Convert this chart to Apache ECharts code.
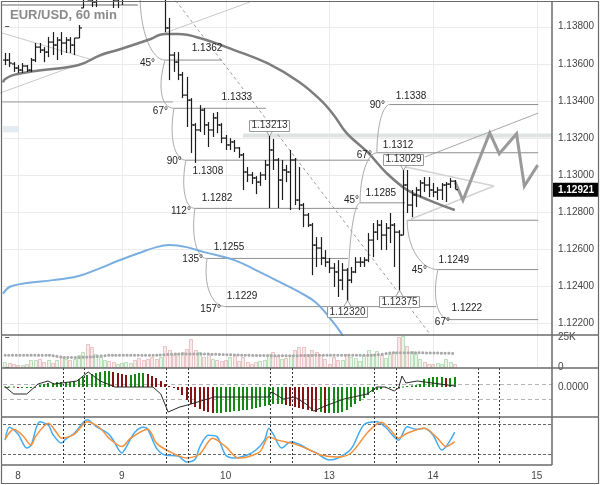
<!DOCTYPE html>
<html>
<head>
<meta charset="utf-8">
<script src="https://cdn.jsdelivr.net/npm/echarts@6.0.0/dist/echarts.min.js"></script>
<style>
html,body{margin:0;padding:0;background:#fff;}
#chart{width:600px;height:485px;}
</style>
</head>
<body>
<div id="chart"></div>
<script>
// ================= DATA =================
const dayStarts = [3, 27, 51, 75, 99, 123];
const dayLabels = ['8', '9', '10', '13', '14', '15'];
const priceTicks = [1.122, 1.124, 1.126, 1.128, 1.130, 1.132, 1.134, 1.136, 1.138];

const open = [
1.1362,1.1362,1.13599,1.13577,1.13566,1.13588,1.13566,1.1362,1.1369,1.13674,
1.13663,1.13717,1.13701,1.13728,1.13712,1.13728,1.13701,1.13739,1.13901,1.13998,
1.13944,1.13933,1.13971,1.14079,1.14133,1.14052,1.13944,1.13971,1.14025,1.14106,
1.1416,1.14133,1.14106,1.14079,1.14052,1.14025,1.13998,1.14052,1.13793,1.13647,
1.13609,1.1354,1.13431,1.13404,1.1327,1.13243,1.1335,1.1327,1.13243,1.13308,
1.1327,1.13199,1.13162,1.13178,1.13146,1.13108,1.13016,1.13,1.12984,1.12962,
1.13,1.13054,1.13135,1.13081,1.12973,1.13027,1.13016,1.13081,1.12865,1.12838,
1.12784,1.1273,1.12622,1.12606,1.12552,1.1253,1.12498,1.12477,1.12433,1.12487,
1.12433,1.12477,1.1253,1.1253,1.12541,1.12649,1.12692,1.1273,1.12676,1.12714,
1.1273,1.12692,1.12676,1.12946,1.12838,1.12892,1.12919,1.12957,1.12946,1.12919,
1.12908,1.12919,1.12946,1.12951,1.12967];
const high = [
1.13658,1.13658,1.13609,1.13593,1.13604,1.13593,1.13631,1.13712,1.13712,1.1369,
1.13744,1.13771,1.13744,1.13771,1.13744,1.13744,1.13739,1.13809,1.14025,1.14079,
1.14079,1.13998,1.14106,1.1416,1.14187,1.14079,1.13998,1.14052,1.14133,1.14187,
1.14214,1.14187,1.1416,1.14133,1.14106,1.14079,1.14052,1.14079,1.13847,1.13663,
1.13663,1.13556,1.13529,1.13415,1.1328,1.13377,1.13361,1.13286,1.13334,1.1334,
1.1328,1.13216,1.13199,1.13189,1.13151,1.13119,1.13043,1.13016,1.12994,1.13016,
1.13081,1.13213,1.13195,1.13092,1.13081,1.13054,1.13135,1.13092,1.13043,1.12849,
1.12795,1.12741,1.12665,1.12665,1.12595,1.12552,1.12525,1.12541,1.12525,1.12498,
1.12504,1.12557,1.12557,1.12557,1.12687,1.12741,1.12757,1.12757,1.12741,1.12795,
1.12741,1.12703,1.13029,1.13027,1.12919,1.12935,1.12973,1.12989,1.12989,1.12957,
1.12935,1.12957,1.12962,1.12984,1.12973];
const low = [
1.13593,1.13583,1.13556,1.1355,1.1355,1.13556,1.13556,1.13609,1.13658,1.13609,
1.13636,1.13647,1.1362,1.13647,1.13658,1.13658,1.13647,1.13739,1.13901,1.13944,
1.13906,1.13906,1.13971,1.14052,1.14025,1.13901,1.13901,1.13917,1.13998,1.14079,
1.14106,1.14079,1.14052,1.14025,1.13998,1.13971,1.13944,1.13771,1.13512,1.13556,
1.13512,1.13415,1.13259,1.13119,1.13065,1.13232,1.13216,1.13151,1.13205,1.13226,
1.13172,1.13135,1.13135,1.13124,1.13092,1.12919,1.12962,1.12951,1.12897,1.12941,
1.12973,1.12822,1.13027,1.12822,1.12865,1.12962,1.12811,1.12838,1.12811,1.12719,
1.12719,1.1246,1.12504,1.12514,1.12504,1.12471,1.12396,1.12342,1.12379,1.1232,
1.12417,1.12471,1.12504,1.12504,1.1253,1.12557,1.12649,1.12595,1.12595,1.12633,
1.12504,1.12375,1.12676,1.12795,1.12773,1.12827,1.12881,1.12908,1.12881,1.12881,
1.12865,1.12865,1.12854,1.1293,1.12924];
const close = [
1.1362,1.13604,1.13577,1.13566,1.13588,1.13566,1.1362,1.1369,1.13674,1.13663,
1.13717,1.13701,1.13728,1.13712,1.13728,1.13701,1.13739,1.13793,1.13998,1.13944,
1.13933,1.13971,1.14079,1.14133,1.14052,1.13944,1.13971,1.14025,1.14106,1.1416,
1.14133,1.14106,1.14079,1.14052,1.14025,1.13998,1.14052,1.13793,1.13647,1.13609,
1.1354,1.13431,1.13404,1.1327,1.13243,1.1335,1.1327,1.13243,1.13308,1.1327,
1.13199,1.13162,1.13178,1.13146,1.13108,1.13016,1.13,1.12984,1.12962,1.13,
1.13054,1.13135,1.13081,1.12973,1.13027,1.13016,1.13081,1.12865,1.12838,1.12784,
1.1273,1.12622,1.12606,1.12552,1.1253,1.12498,1.12477,1.12433,1.12487,1.12433,
1.12477,1.1253,1.1253,1.12541,1.12649,1.12692,1.1273,1.12676,1.12714,1.1273,
1.12692,1.12676,1.12946,1.12838,1.12892,1.12919,1.12957,1.12946,1.12919,1.12908,
1.12919,1.12946,1.12951,1.12967,1.12921];
const lastPrice = 1.12921;

// moving averages (read at points along the curves)
const maSlow = [[-0.5,1.135],[0,1.13518],[2,1.1354],[7,1.13561],[17,1.13593],[22,1.13647],[26,1.13674],[33,1.13728],[37,1.1376],[40,1.1376],[45,1.13739],[53,1.13674],[61,1.13599],[68,1.13502],[73,1.13404],[76,1.13324],[79,1.13226],[84,1.13119],[88,1.13016],[93,1.12919],[98,1.12865],[104,1.12811]];
const maBlue = [[-0.5,1.12359],[1,1.12396],[5,1.12417],[11,1.12433],[17,1.12455],[22,1.12498],[26,1.12536],[31,1.12579],[35,1.12611],[38,1.12622],[42,1.12611],[46,1.12584],[53,1.12541],[58,1.12487],[64,1.12417],[68,1.12369],[72,1.1231],[76,1.12202],[78,1.12137],[79,1.121]];

// volume (thousands)
const volume = [4.2,3.4,2.8,1.4,2,2.8,5.6,6.2,7,4.2,5.6,3.7,5.6,8.5,7,6.2,7,9.9,12.7,19.2,
17,11.3,8.5,6.2,5,4.2,2.8,3.4,4.2,3.4,5.6,7.9,6.2,7,8.5,7,8.5,17.5,14,9.9,
11.3,12.7,15.5,24,14,12.7,8.5,11.3,7,5.6,5,6.2,8.5,9.9,5,8.5,4.2,2.8,4,5,
5.6,11.3,12.7,9,7,7.9,9.9,14,17,17,11.3,14.7,12.7,9.9,7,2.8,8.5,5.6,6.2,10.7,
8.5,7.9,5,9.9,14,11.3,13.5,9.9,7.9,11.3,12.7,25,26,18,13.5,11.3,7,4.2,2.8,2.8,
3.4,2.8,7,4.2,2.3];
const volumeMA = [[0,10],[10,10],[14,8],[20,8.5],[25,10],[35,10],[40,11],[45,11],[55,10],[65,9.5],[75,10],[85,10],[90,12],[95,12],[104,11.5]];

// MACD (pips)
const macdHist = [0.5,0.5,0.5,0,0,0,0,0,2,3,4,4,5,5,5,5,6,8,10,12,
13,14,15,16,16,15,14,13,12,12,13,14,14,13,11,9,6,3,1,-1,
-3,-8,-13,-17,-20,-22,-24,-25,-26,-26,-26,-25,-25,-24,-24,-23,-23,-22,-21,-20,
-19,-18,-17,-17,-17,-18,-19,-20,-21,-22,-23,-24,-25,-25,-26,-26,-26,-26,-25,-23,
-20,-17,-14,-11,-8,-5,-3,-2,-1,-1,-1,-1.5,0.5,1,1.5,2,3,8,9,10,
10,10,9,9,10];
const macdLine = [[0,0],[2,-7],[5,-7],[7.6,3],[9.9,6],[11.3,3],[16.6,6],[19.2,15],[22,6],[25.4,0],[34.2,0],[36,-7],[37.7,-25],[40.4,-20],[43,-17],[48.3,-10],[60.8,-10],[61.7,-5],[64.3,-12],[67,-10],[69.6,-17],[71.4,-24],[74,-19],[78.4,-12],[83.7,-7],[86,0],[87.9,0],[90,-4],[91,-1],[91.8,11],[92.7,4],[95.3,6],[100.6,3],[104,1]];
const macdLevels = [3, -12];

// Stochastic
const stochK = [[0,48],[1,74],[3,60],[5,32],[6,38],[8,85],[10,78],[11,60],[13,42],[14,50],[16,62],[19,89],[21,76],[23,66],[24,60],[25,48],[27,22],[28,34],[30,64],[32,74],[33,70],[35,32],[37,18],[40,16],[42,4],[44,10],[45,34],[47,58],[49,55],[51,18],[53,12],[56,18],[58,28],[60,48],[61,72],[62,60],[64,32],[66,44],[68,40],[70,30],[72,22],[75,8],[77,12],[80,30],[83,79],[86,85],[88,74],[91,48],[93,75],[95,70],[97,72],[99,58],[101,28],[104,64]];
const stochD = [[0,50],[2,70],[4,58],[6,38],[7,55],[10,82],[12,62],[13,52],[16,60],[19,85],[22,72],[24,52],[27,35],[29,52],[33,70],[35,42],[38,25],[42,12],[45,20],[48,52],[51,35],[54,12],[56,14],[59,25],[61,55],[63,48],[67,40],[70,30],[73,18],[77,14],[80,22],[84,65],[87,84],[89,70],[91,52],[93,62],[97,72],[100,52],[102,35],[104,45]];
const stochLevels = [80, 20];
const sessionMarks = [13.3, 18.3, 37.3, 42.3, 61.3, 66.3, 85.3, 90.3, 109.3, 114.3];

// Drawing objects (time index, price)
const levelPrices = [1.1362, 1.1336, 1.1308, 1.1282, 1.1255, 1.1229, 1.1285, 1.1312, 1.1338, 1.12756, 1.1249, 1.1222];
const levelLabels = ['1.1362','1.1333','1.1308','1.1282','1.1255','1.1229','1.1285','1.1312','1.1338','','1.1249','1.1222'];
const levelSpans = [[37.0,50.2],[39.05,60.3],[41.8,84.4],[43.9,81.6],[46.7,79.3],[51.1,99.7],[82.1,92.5],[86.0,123.3],[89.0,123.3],[93.0,123.3],[100.1,123.3],[102.9,123.3]];
const levelLabelAt = [46.7, 53.6, 46.9, 49.0, 51.8, 54.8, 86.9, 90.9, 93.9, 0, 103.8, 106.8];
const angleOf = [0,1,2,3,4,5,6,7,8,10,11];
const angleText = ['45°','67°','90°','112°','135°','157°','45°','67°','90°','45°','67°'];
const arcs = [[31.2,1.1397,37.0,1.1362],[37.0,1.1362,39.05,1.1336],[39.05,1.1336,41.8,1.1308],[41.8,1.1308,43.9,1.1282],[43.9,1.1282,46.7,1.1255],[46.7,1.1255,51.1,1.1229],
  [79.3,1.1232,82.1,1.1285],[82.1,1.1285,86.0,1.1312],[86.0,1.1312,89.0,1.1338],[93.0,1.12756,100.1,1.1249],[100.1,1.1249,102.9,1.1222]];
const trendLines = [[-0.7,1.13917,30.7,1.13917],[-0.7,1.13394,38.8,1.13394],[39.5,1.1394,98,1.1215],[-1.2,1.13442,56.6,1.13933],[-0.7,1.13766,20.3,1.1362],[92.7,1.13043,113.1,1.12941],[93.9,1.12763,113.1,1.12941],[97.1,1.13097,123.3,1.13334]];
const resistance = [55, 126.5, 1.13213];
const projection = [[104.1,1.12962],[105.9,1.12863],[112.1,1.13227],[114.3,1.13115],[118.3,1.13223],[120.1,1.1294],[123.2,1.13053]];
const markedBars = [[61,'high'],[92,'high'],[79,'low'],[91,'low']];

// ================= STYLE / LAYOUT =================
const FONT = '"Liberation Sans", Arial, sans-serif';
const XMIN = -0.5, XMAX = 126.5;
const PMIN = 1.12137, PMAX = 1.13944;
const trendStyles = [
  {stroke:'#b4b4b4', lineWidth:2}, {stroke:'#9a9a9a', lineWidth:1}, {stroke:'#9a9a9a', lineWidth:1, lineDash:[3,3]},
  {stroke:'#c8c8c8', lineWidth:1}, {stroke:'#c8c8c8', lineWidth:1}, {stroke:'#d2d2d2', lineWidth:1.5},
  {stroke:'#d2d2d2', lineWidth:1.5}, {stroke:'#a8a8a8', lineWidth:1}];
const levelLabelDy = [-11.5,-11.5,11.5,-10,-11,-10,-10,-8,-8.5,0,-9,-11];
const angleDx = [-10,-6,-4,-4,-4,-5,-1,-5,-5,-11,0];
const angleDy = [3.5,2.5,1,3,1,3,-3,2,0.5,1,3];
const arcBulge = [0,8,5,5,4,4,0,0,0,0,6];

const chart = echarts.init(document.getElementById('chart'), null, {renderer:'canvas', width:600, height:485});

const grids = [
  {left:3, top:0, width:549, height:335},
  {left:3, top:335, width:549, height:32},
  {left:3, top:368, width:549, height:49},
  {left:3, top:417, width:549, height:48}
];
const xAxes = grids.map((g, k) => ({
  type:'value', gridIndex:k, min:XMIN, max:XMAX,
  axisLine:{show:false}, axisTick:{show:false}, splitLine:{show:false},
  axisLabel: k === 3 ? {show:true, customValues:dayStarts, margin:6, color:'#444', fontSize:10, fontFamily:FONT,
      formatter: v => { const j = dayStarts.indexOf(v); return j >= 0 ? dayLabels[j] : ''; }} : {show:false}
}));
const yLab = {color:'#444', fontSize:10, fontFamily:FONT, margin:6};
const yAxes = [
  {type:'value', gridIndex:0, position:'right', min:PMIN, max:PMAX, splitLine:{show:false}, axisLine:{show:false},
    axisTick:{show:true, customValues:priceTicks, length:4, lineStyle:{color:'#555'}},
    axisLabel:Object.assign({customValues:priceTicks, formatter: v => v.toFixed(5)}, yLab)},
  {type:'value', gridIndex:1, position:'right', min:0, max:27.1, splitLine:{show:false}, axisLine:{show:false},
    axisTick:{show:true, customValues:[0,25], length:4, lineStyle:{color:'#555'}},
    axisLabel:Object.assign({customValues:[0,25], formatter: v => v ? v + 'K' : '0'}, yLab)},
  {type:'value', gridIndex:2, position:'right', min:-30, max:19, splitLine:{show:false}, axisLine:{show:false},
    axisTick:{show:true, customValues:[0], length:4, lineStyle:{color:'#555'}},
    axisLabel:Object.assign({customValues:[0], formatter: v => (v/10000).toFixed(4)}, yLab)},
  {type:'value', gridIndex:3, position:'right', min:-2.2, max:94.7, splitLine:{show:false}, axisLine:{show:false},
    axisTick:{show:false}, axisLabel:{show:false}}
];

function L(a, b, style) { return {type:'line', shape:{x1:a[0], y1:a[1], x2:b[0], y2:b[1]}, style:style}; }

const ANCHOR = [[XMAX, PMAX]];
const series = [];
// gridlines (main + volume)
series.push({type:'custom', xAxisIndex:0, yAxisIndex:0, z:1, silent:true, data:ANCHOR,
  renderItem(params, api) {
    const ch = [];
    priceTicks.forEach(p => { const a = api.coord([XMIN, p]), b = api.coord([XMAX, p]);
      const y = Math.round(a[1]) + 0.5; ch.push(L([a[0], y], [b[0], y], {stroke:'#ebebeb', lineWidth:1})); });
    dayStarts.forEach(d => { const a = api.coord([d, PMAX]); const x = Math.round(a[0]) + 0.5;
      ch.push(L([x, 0], [x, 367], {stroke:'#ebebeb', lineWidth:1})); });
    return {type:'group', children:ch};
  }});
// drawings
series.push({type:'custom', xAxisIndex:0, yAxisIndex:0, z:2, silent:true, data:ANCHOR,
  renderItem(params, api) {
    const C = (t, p) => api.coord([t, p]);
    const ch = [];
    const ra = C(resistance[0], resistance[2]), rb = C(resistance[1], resistance[2]);
    ch.push(L(ra, rb, {stroke:'#dfe3e3', lineWidth:4}));
    trendLines.forEach((t, k) => ch.push(L(C(t[0], t[1]), C(t[2], t[3]), trendStyles[k])));
    levelPrices.forEach((p, k) => ch.push(L(C(levelSpans[k][0], p), C(levelSpans[k][1], p), {stroke:'#8f8f8f', lineWidth:1})));
    arcs.forEach((a, k) => {
      const p0 = C(a[0], a[1]), p3 = C(a[2], a[3]);
      const h = p3[1] - p0[1], w = p3[0] - p0[0], b = arcBulge[k];
      ch.push({type:'bezierCurve', shape:{x1:p0[0], y1:p0[1], x2:p3[0], y2:p3[1],
        cpx1:p0[0] - b, cpy1:p0[1] + 0.552 * h, cpx2:p3[0] - 0.552 * w - b, cpy2:p3[1]},
        style:{stroke:'#ababab', fill:null, lineWidth:1}});
    });
    ch.push({type:'polyline', shape:{points:projection.map(q => C(q[0], q[1]))}, style:{stroke:'#9a9a9a', fill:null, lineWidth:3}});
    const bx0 = C(-0.5, 1.13265), bx1 = C(3, 1.1323);
    ch.push({type:'rect', shape:{x:bx0[0], y:bx0[1], width:bx1[0]-bx0[0], height:bx1[1]-bx0[1]}, style:{fill:'#e4ebf1'}});
    return {type:'group', children:ch};
  }});
// moving averages
series.push({type:'line', xAxisIndex:0, yAxisIndex:0, z:3, data:maBlue, smooth:0.4, symbol:'none', silent:true,
  lineStyle:{color:'#7aaee0', width:2}});
series.push({type:'line', xAxisIndex:0, yAxisIndex:0, z:3, data:maSlow, smooth:0.4, symbol:'none', silent:true,
  lineStyle:{color:'#7d7d7d', width:2.5}});
// OHLC bars
series.push({type:'custom', xAxisIndex:0, yAxisIndex:0, z:5, silent:true,
  data: open.map((o, i) => [i, o, high[i], low[i], close[i]]),
  encode:{x:0, y:[1,2,3,4]},
  renderItem(params, api) {
    const i = api.value(0);
    const h = api.coord([i, api.value(2)]), l = api.coord([i, api.value(3)]);
    const o = api.coord([i, api.value(1)]), c = api.coord([i, api.value(4)]);
    const x = Math.round(h[0]) + 0.5;
    const st = {stroke:'#1c1c1c', lineWidth:1.2};
    return {type:'group', children:[
      L([x, h[1]], [x, l[1]], st), L([x - 2.5, o[1]], [x, o[1]], st), L([x, c[1]], [x + 2.5, c[1]], st)]};
  }});
// labels
series.push({type:'custom', xAxisIndex:0, yAxisIndex:0, z:6, silent:true, data:ANCHOR,
  renderItem(params, api) {
    const C = (t, p) => api.coord([t, p]);
    const ch = [];
    const tf = '10px ' + FONT;
    levelPrices.forEach((p, k) => {
      if (!levelLabels[k]) return;
      const q = C(levelLabelAt[k], p);
      ch.push({type:'text', x:q[0], y:q[1] + levelLabelDy[k], style:{text:levelLabels[k], font:tf, fill:'#222', align:'center', verticalAlign:'middle'}});
    });
    angleOf.forEach((li, k) => {
      const q = C(levelSpans[li][0], levelPrices[li]);
      ch.push({type:'text', x:q[0] + angleDx[k], y:q[1] + angleDy[k], style:{text:angleText[k], font:tf, fill:'#222', align:'right', verticalAlign:'middle'}});
    });
    markedBars.forEach(([i, kind]) => {
      const v = kind === 'high' ? high[i] : low[i];
      const p = C(i, v);
      const dir = kind === 'high' ? -1 : 1;
      const cy = p[1] + dir * 10.5;
      const edge = cy - dir * 5.5;
      const x = Math.round(p[0]) + 0.5;
      ch.push({type:'polyline', shape:{points:[[x - 3.5, edge], [x, p[1] - dir * 0.5], [x + 3.5, edge]]}, style:{stroke:'#9a9a9a', fill:'#fff', lineWidth:1}});
      ch.push({type:'rect', shape:{x:x - 20, y:Math.round(cy - 5.5) + 0.5, width:40, height:11}, style:{fill:'#fff', stroke:'#9a9a9a', lineWidth:1}});
      ch.push({type:'text', x:x, y:cy + 0.5, style:{text:v.toFixed(5), font:tf, fill:'#333', align:'center', verticalAlign:'middle'}});
    });
    return {type:'group', children:ch};
  }});
// current price tag
series.push({type:'custom', xAxisIndex:0, yAxisIndex:0, z:7, silent:true, data:[[open.length - 1, lastPrice]],
  renderItem(params, api) {
    const p = api.coord([XMAX, api.value(1)]);
    return {type:'group', children:[
      {type:'rect', shape:{x:p[0] + 1, y:p[1] - 7, width:45, height:14}, style:{fill:'#000'}},
      {type:'text', x:p[0] + 24, y:p[1] + 0.5, style:{text:api.value(1).toFixed(5), font:'bold 10px ' + FONT, fill:'#fff', align:'center', verticalAlign:'middle'}}]};
  }});
// volume
series.push({type:'custom', xAxisIndex:1, yAxisIndex:1, z:3, silent:true,
  data: volume.map((v, i) => [i, v]),
  renderItem(params, api) {
    const i = api.value(0), v = api.value(1);
    const up = close[i] >= open[i];
    const a = api.coord([i - 0.4, v]), b = api.coord([i + 0.4, 0]);
    return {type:'rect', shape:{x:Math.round(a[0]) + 0.5, y:Math.round(a[1]) + 0.5, width:Math.round(b[0] - a[0]), height:Math.round(b[1] - a[1])},
      style:{fill: up ? 'rgba(150,210,150,0.22)' : 'rgba(225,160,160,0.22)', stroke: up ? 'rgba(130,195,130,0.5)' : 'rgba(215,150,150,0.5)', lineWidth:1}};
  }});
series.push({type:'line', xAxisIndex:1, yAxisIndex:1, z:4, data:volumeMA, smooth:0.3, symbol:'none', silent:true,
  lineStyle:{color:'#a8a8a8', width:3, type:[0.1, 3.6], cap:'round'}});
// MACD
series.push({type:'custom', xAxisIndex:2, yAxisIndex:2, z:2, silent:true, data:[[XMAX, 19]],
  renderItem(params, api) {
    const ch = [];
    macdLevels.forEach(v => { const a = api.coord([XMIN, v]), b = api.coord([XMAX, v]); const y = Math.round(a[1]) + 0.5;
      ch.push(L([a[0], y], [b[0], y], {stroke:'#b5b5b5', lineWidth:1, lineDash:[4,3]})); });
    return {type:'group', children:ch};
  }});
series.push({type:'custom', xAxisIndex:2, yAxisIndex:2, z:3, silent:true,
  data: macdHist.map((v, i) => [i, v]),
  renderItem(params, api) {
    const i = api.value(0), v = api.value(1);
    const prev = i > 0 ? macdHist[i - 1] : v;
    const col = v >= prev ? '#138a13' : '#861414';
    const a = api.coord([i, v]), b = api.coord([i, 0]);
    const x = Math.round(a[0]) - 1;
    const y0 = Math.min(a[1], b[1]), hh = Math.max(Math.abs(a[1] - b[1]), 1);
    return {type:'rect', shape:{x:x, y:y0, width:2, height:hh}, style:{fill:col}};
  }});
series.push({type:'line', xAxisIndex:2, yAxisIndex:2, z:4, data:macdLine, symbol:'none', silent:true,
  lineStyle:{color:'#2a2a2a', width:1}});
// Stochastic
series.push({type:'custom', xAxisIndex:3, yAxisIndex:3, z:2, silent:true, data:[[XMAX, 94]],
  renderItem(params, api) {
    const ch = [];
    stochLevels.forEach(v => { const a = api.coord([XMIN, v]), b = api.coord([XMAX, v]); const y = Math.round(a[1]) + 0.5;
      ch.push(L([a[0], y], [b[0], y], {stroke:'#666', lineWidth:1, lineDash:[3,2]})); });
    return {type:'group', children:ch};
  }});
series.push({type:'line', xAxisIndex:3, yAxisIndex:3, z:4, data:stochK, smooth:0.3, symbol:'none', silent:true,
  lineStyle:{color:'#45aaf2', width:1.5}});
series.push({type:'line', xAxisIndex:3, yAxisIndex:3, z:4, data:stochD, smooth:0.3, symbol:'none', silent:true,
  lineStyle:{color:'#f5903a', width:1.5}});
// session markers across MACD + stochastic
[2, 3].forEach(k => {
  series.push({type:'custom', xAxisIndex:k, yAxisIndex:k, z:5, silent:true, data:sessionMarks.map(v => [v, 0]),
    renderItem(params, api) {
      const a = api.coord([api.value(0), 0]);
      const x = Math.round(a[0]) + 0.5;
      const g = grids[k];
      return L([x, g.top], [x, g.top + g.height], {stroke:'#333', lineWidth:1, lineDash:[2,2]});
    }});
});

const frame = '#6a6a6a';
const option = {
  animation:false,
  backgroundColor:'#fff',
  grid:grids,
  xAxis:xAxes,
  yAxis:yAxes,
  series:series,
  graphic:[
    {type:'text', left:10, top:9, z:100, style:{text:'EUR/USD, 60 min', font:'bold 13px ' + FONT, fill:'#8a8a8a'}},
    {type:'rect', z:90, shape:{x:1.5, y:1.5, width:597, height:482}, style:{fill:null, stroke:frame, lineWidth:1.2}},
    {type:'line', z:90, shape:{x1:552, y1:1.5, x2:552, y2:465}, style:{stroke:frame, lineWidth:1.5}},
    {type:'line', z:90, shape:{x1:1.5, y1:335, x2:598.5, y2:335}, style:{stroke:frame, lineWidth:1.5}},
    {type:'line', z:90, shape:{x1:1.5, y1:368, x2:598.5, y2:368}, style:{stroke:frame, lineWidth:1.5}},
    {type:'line', z:90, shape:{x1:1.5, y1:417, x2:598.5, y2:417}, style:{stroke:frame, lineWidth:1.5}},
    {type:'line', z:90, shape:{x1:1.5, y1:465, x2:552, y2:465}, style:{stroke:frame, lineWidth:1.5}}
  ]
};
chart.setOption(option);
</script>
</body>
</html>
